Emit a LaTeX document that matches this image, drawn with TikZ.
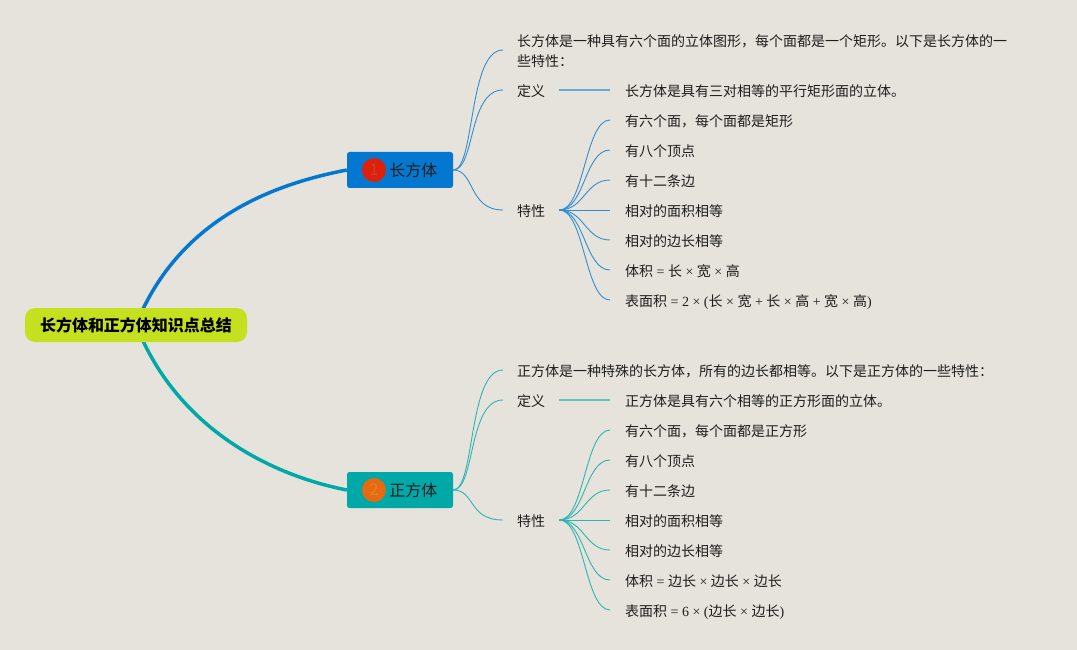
\documentclass[tikz,border=0pt]{standalone}
\usepackage{fontspec}
\setmainfont{Noto Sans CJK SC}
\newfontfamily\latfont{Liberation Serif}
\newcommand{\ltn}[1]{{\latfont #1}}
\usetikzlibrary{positioning, backgrounds}
\definecolor{paper}{HTML}{E5E3DB}
\definecolor{ink}{HTML}{1E1E1E}
\definecolor{bluea}{HTML}{0478D0}
\definecolor{teala}{HTML}{00A8A8}
\definecolor{lime}{HTML}{C5E01F}
\tikzset{
	x=1pt,
	y=-1pt,
	root/.style={
		rectangle,
		rounded corners=10pt,
		fill=lime,
		text=black,
		minimum width=222pt,
		minimum height=34pt,
		inner sep=0,
		font=\fontsize{16}{20}\selectfont\bfseries
	},
	topic/.style={
		rectangle,
		rounded corners=2.5pt,
		minimum width=106pt,
		minimum height=36pt,
		inner sep=0
	},
	badge/.style={
		circle,
		minimum size=24pt,
		inner sep=0,
		font=\fontsize{16}{20}\selectfont
	},
	topictext/.style={
		inner sep=0,
		text=ink,
		font=\fontsize{16}{20}\selectfont
	},
	leaf/.style={
		anchor=west,
		inner xsep=15pt,
		inner ysep=0,
		text=ink,
		text height=15pt,
		text depth=2pt,
		font=\fontsize{14}{20}\selectfont
	},
	mid/.style={
		leaf,
		inner xsep=14pt
	},
	twig/.style={
		to path={.. controls +(25,0) and +(-25,0) .. (\tikztotarget)}
	},
	bough/.style={
		to path={.. controls +(22,0) and +(-35,0) .. (\tikztotarget)}
	}
}
\begin{document}
\begin{tikzpicture}
	\useasboundingbox (0,0) rectangle (1077,650);
	
	\node (root) [root] at (136,325) {长方体和正方体知识点总结};
	
	% upper branch
	\node (boxa) [topic, fill=bluea] at (400,170) {};
	\node (badgea) [badge, fill={rgb,255:red,224;green,32;blue,10}, text={rgb,255:red,190;green,70;blue,55}] at (374,170) {1};
	\node (labela) [topictext, right=3pt of badgea] {长方体};
	\node (intra) [mid, align=left, text height=36pt] at (503,50) {长方体是一种具有六个面的立体图形，每个面都是一个矩形。以下是长方体的一\\些特性：};
	\node (defa) [mid] at (503,90) {定义};
	\node (dtxa) [leaf] at (610,90) {长方体是具有三对相等的平行矩形面的立体。};
	\node (fea) [mid] at (503,210) {特性};
	\foreach \n/\y/\txt in {
		1/120/{有六个面，每个面都是矩形},
		2/150/{有八个顶点},
		3/180/{有十二条边},
		4/210/{相对的面积相等},
		5/240/{相对的边长相等},
		6/270/{体积\ltn{ = }长\ltn{ × }宽\ltn{ × }高},
		7/300/{表面积\ltn{ = 2 × (}长\ltn{ × }宽\ltn{ + }长\ltn{ × }高\ltn{ + }宽\ltn{ × }高\ltn{)}}} {
		\node (lfa\n) [leaf] at (610,\y) {\txt};
	}
	
	% lower branch
	\node (boxb) [topic, fill=teala] at (400,490) {};
	\node (badgeb) [badge, fill={rgb,255:red,229;green,106;blue,16}, text={rgb,255:red,226;green,130;blue,50}] at (374,490) {2};
	\node (labelb) [topictext, right=3pt of badgeb] {正方体};
	\node (intrb) [mid] at (503,370) {正方体是一种特殊的长方体，所有的边长都相等。以下是正方体的一些特性：};
	\node (defb) [mid] at (503,400) {定义};
	\node (dtxb) [leaf] at (610,400) {正方体是具有六个相等的正方形面的立体。};
	\node (feb) [mid] at (503,520) {特性};
	\foreach \n/\y/\txt in {
		1/430/{有六个面，每个面都是正方形},
		2/460/{有八个顶点},
		3/490/{有十二条边},
		4/520/{相对的面积相等},
		5/550/{相对的边长相等},
		6/580/{体积\ltn{ = }边长\ltn{ × }边长\ltn{ × }边长},
		7/610/{表面积\ltn{ = 6 × (}边长\ltn{ × }边长\ltn{)}}} {
		\node (lfb\n) [leaf] at (610,\y) {\txt};
	}
	
	\begin{scope}[on background layer]
		\fill [paper] (0,0) rectangle (1077,650);
		
		\draw [bluea, line width=3.5pt] (root.center) .. controls (180,215) and (280,183) .. (boxa.west);
		\draw [teala, line width=3.5pt] (root.center) .. controls (180,435) and (280,477) .. (boxb.west);
		
		\foreach \to in {intra, defa, fea} {
			\draw [bluea!80!paper, line width=0.9pt] (boxa.east) to [bough] (\to.west);
		}
		\draw [bluea!55!paper, line width=1.1pt] (defa.east) -- (dtxa.west);
		\foreach \n in {1, ..., 7} {
			\draw [bluea!80!paper, line width=0.9pt] (fea.east) to [twig] (lfa\n.west);
		}
		
		\foreach \to in {intrb, defb, feb} {
			\draw [teala!80!paper, line width=0.9pt] (boxb.east) to [bough] (\to.west);
		}
		\draw [teala!55!paper, line width=1.1pt] (defb.east) -- (dtxb.west);
		\foreach \n in {1, ..., 7} {
			\draw [teala!80!paper, line width=0.9pt] (feb.east) to [twig] (lfb\n.west);
		}
	\end{scope}
\end{tikzpicture}
\end{document}
